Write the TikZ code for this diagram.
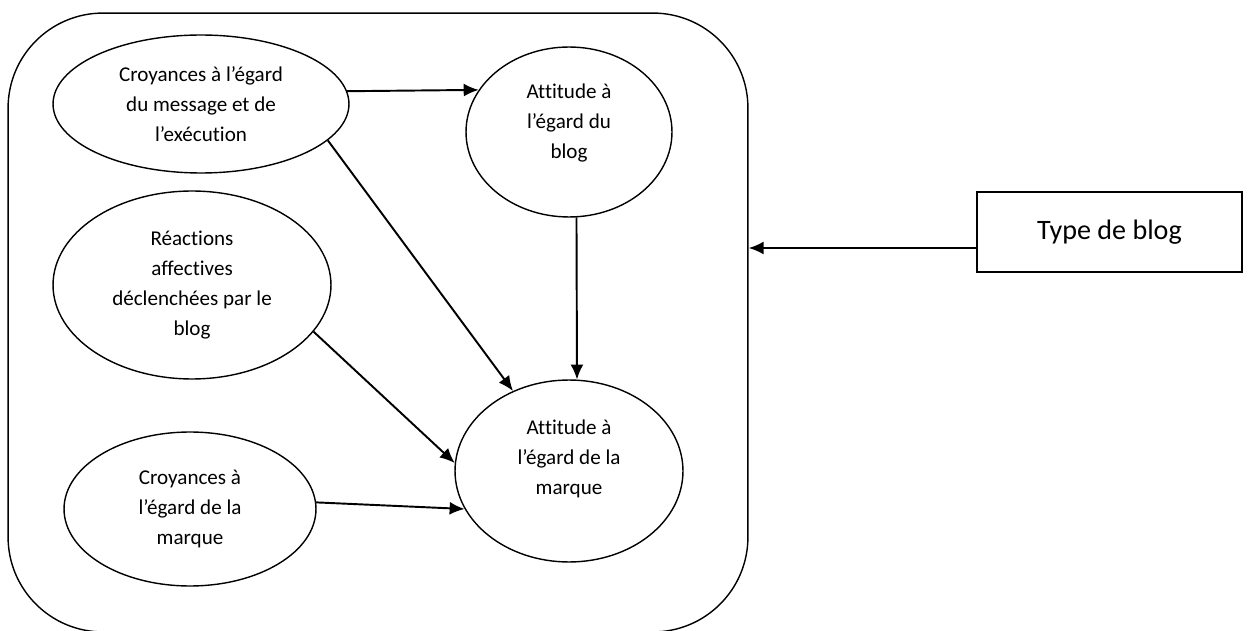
\documentclass[tikz,border=0pt]{standalone}
\usepackage{fontspec}
\setmainfont{Carlito}[Ligatures={TeX,NoCommon}]
\usepackage{tikz}
\usetikzlibrary{shapes.geometric,arrows.meta}
\colorlet{linkblack}{black}

\begin{document}
\begin{tikzpicture}[x=0.02cm, y=-0.02cm,
        bubble/.style={ellipse, draw, line width=0.8pt, inner sep=0pt, align=center, font=\fontsize{12}{17}\selectfont},
        outerbox/.style={rectangle, draw, line width=0.8pt, rounded corners=1.9cm, minimum width=14.8cm, minimum height=12.38cm},
        typebox/.style={rectangle, draw, line width=0.8pt, minimum width=5.3cm, minimum height=1.6cm, font=\fontsize{16}{19}\selectfont},
        linkarrow/.style={linkblack, line width=1.1pt, -{Latex[length=0.3cm, width=0.26cm]}}]
        \useasboundingbox (0,0) rectangle (1254,631);
        % frame and outside factor
        \node[outerbox] (outer) at (378,322.5) {};
        \node[typebox] (typeblog) at (1109.5,232) {Type de blog};
        % the five bubbles
        \node[bubble, minimum width=5.92cm, minimum height=2.76cm] (cmsg) at (201,104) {Croyances à l’égard\\du message et de\\l’exécution};
        \node[bubble, minimum width=4.12cm, minimum height=3.4cm, text depth=12pt] (attblog) at (569,132) {Attitude à\\l’égard du\\blog};
        \node[bubble, minimum width=5.56cm, minimum height=3.76cm] (react) at (192,285) {Réactions\\affectives\\déclenchées par le\\blog};
        \node[bubble, minimum width=5.04cm, minimum height=3.08cm] (cmarque) at (190,509) {Croyances à\\l’égard de la\\marque};
        \node[bubble, minimum width=4.56cm, minimum height=3.64cm, text depth=16pt] (attmarque) at (569,471) {Attitude à\\l’égard de la\\marque};
        % links
        \draw[linkarrow] (cmsg.5) -- (attblog.155);
        \draw[linkarrow] (cmsg.-16) -- (attmarque.125);
        \draw[linkarrow] (attblog.-85) -- (attmarque.85);
        \draw[linkarrow] (react.-21) -- (attmarque.176);
        \draw[linkarrow] (cmarque.3) -- (attmarque.-160);
        \coordinate (typesrc) at ([yshift=-0.32cm]typeblog.west);
        \draw[linkarrow] (typesrc) -- (typesrc -| outer.east);
\end{tikzpicture}
\end{document}
